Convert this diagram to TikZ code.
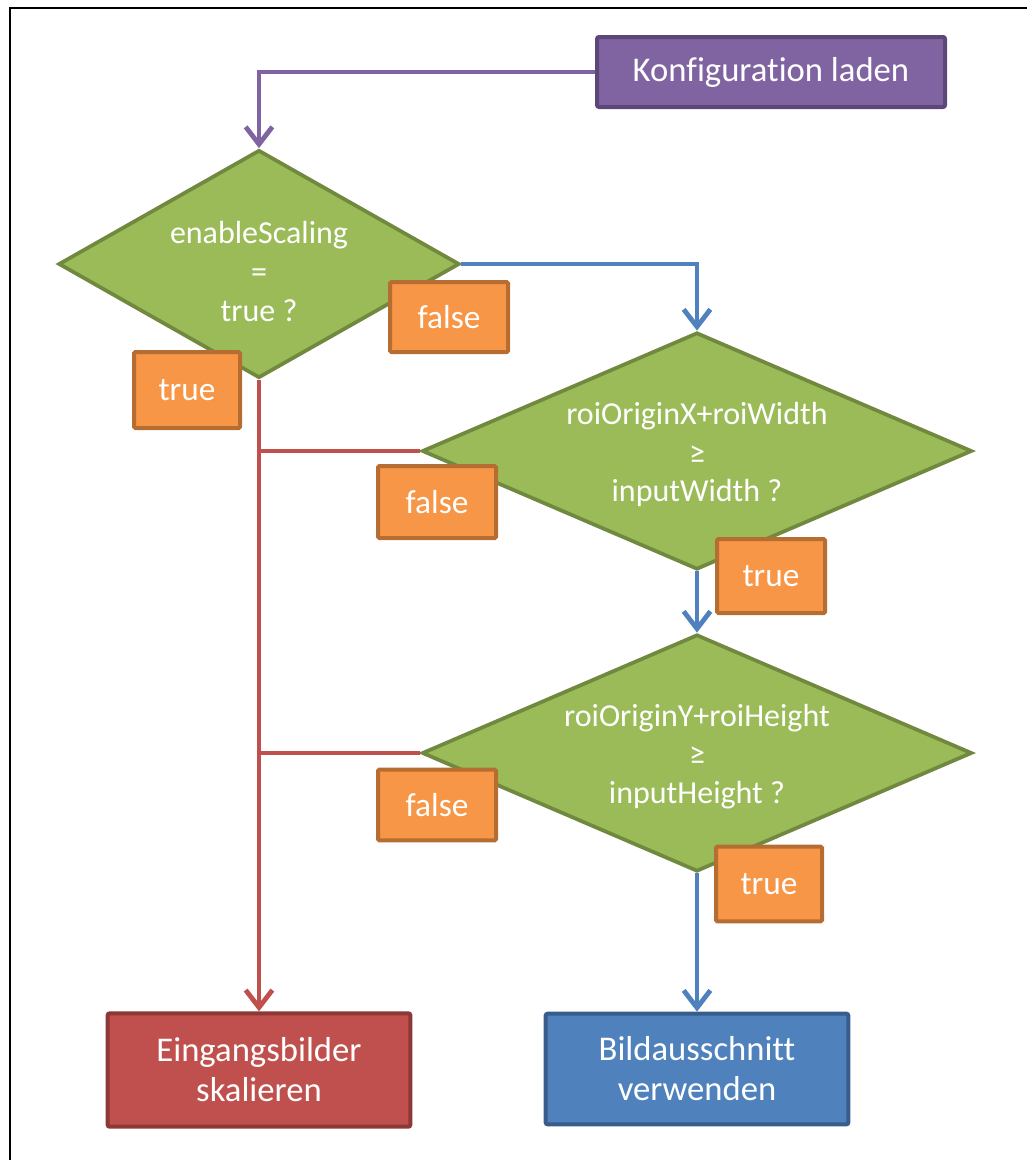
\documentclass[tikz,border=0pt]{standalone}
\usepackage{fontspec}
\setmainfont{Carlito}[RawFeature={-liga}]
\usetikzlibrary{arrows.meta, positioning, shapes.geometric}
\definecolor{cfgPurple}{HTML}{8064A2}
\definecolor{cfgPurpleDk}{HTML}{5C4776}
\definecolor{decGreen}{HTML}{9BBB59}
\definecolor{decGreenDk}{HTML}{71893F}
\definecolor{lblOrange}{HTML}{F79646}
\definecolor{lblOrangeDk}{HTML}{B66D31}
\definecolor{resRed}{HTML}{C0504D}
\definecolor{resRedDk}{HTML}{8C3836}
\definecolor{resBlue}{HTML}{4F81BD}
\definecolor{resBlueDk}{HTML}{385D8A}
\newcommand{\toppad}[1]{\rule{0pt}{#1}}

\begin{document}
\begin{tikzpicture}[
    x=0.75pt, y=-0.75pt,
    box/.style={rectangle, rounded corners=1.5pt, draw=#1Dk, fill=#1,
                line width=3pt, text=white, align=center, inner sep=0pt,
                font=\fontsize{26}{30}\selectfont},
    decision/.style={diamond, draw=decGreenDk, fill=decGreen, line width=2.8pt,
                     text=white, align=center, inner sep=0pt, shape aspect=#1,
                     font=\fontsize{24}{29}\selectfont},
    lbl/.style={rectangle, rounded corners=1pt, draw=lblOrangeDk, fill=lblOrange,
                line width=3pt, text=white, inner sep=0pt,
                font=\fontsize{25}{30}\selectfont},
    flow/.style={line width=3.6pt, draw=#1,
                 -{Straight Barb[length=13pt, width=20pt]}},
    branch/.style={line width=3.6pt, draw=#1},
  ]
    \useasboundingbox (0,0) rectangle (1027,1160);
    % frame (cut at right and bottom)
    \draw[line width=2pt] (10,1160) -- (10,8) -- (1027,8);

    \node[box=cfgPurple, minimum width=261pt, minimum height=52.5pt]
      (konf) at (771,72) {Konfiguration laden};

    \node[decision=1.76, minimum width=300.75pt, minimum height=171pt]
      (scal) at (259,264) {\toppad{28pt}enableScaling\\=\\true ?};
    \node[decision=2.32, minimum width=412.5pt, minimum height=177.75pt]
      (roix) at (697,451) {\toppad{22pt}roiOriginX+roiWidth\\≥\\inputWidth ?};
    \node[decision=2.32, minimum width=412.5pt, minimum height=177.75pt]
      (roiy) at (697,753) {\toppad{22pt}roiOriginY+roiHeight\\≥\\inputHeight ?};

    \node[box=resRed, minimum width=227pt, minimum height=85pt]
      (skal) at (259,1070) {Eingangsbilder\\skalieren};
    \node[box=resBlue, minimum width=227pt, minimum height=83pt]
      (ausw) at (697,1069) {Bildausschnitt\\verwenden};

    % connectors
    \draw[flow=cfgPurple] (konf.west) -| (scal.north);
    \draw[flow=resBlue] (scal.east) -| (roix.north);
    \draw[flow=resBlue] (roix.south) -- (roiy.north);
    \draw[flow=resBlue] (roiy.south) -- (ausw.north);
    \draw[flow=resRed] (scal.south) -- (skal.north);
    \draw[branch=resRed] (roix.west) -- (roix.west -| scal.south);
    \draw[branch=resRed] (roiy.west) -- (roiy.west -| scal.south);

    % branch labels
    \node[lbl, minimum width=88.5pt, minimum height=52.5pt] (f1) at (449,317) {false};
    \node[lbl, minimum width=79.5pt, minimum height=57pt] (t1) at (187,390) {true};
    \node[lbl, minimum width=88.5pt, minimum height=54pt] (f2) at (437,502) {false};
    \node[lbl, minimum width=81pt, minimum height=55.5pt] (t2) at (771,576) {true};
    \node[lbl, minimum width=88.5pt, minimum height=53pt] (f3) at (437,805) {false};
    \node[lbl, minimum width=79.5pt, minimum height=56pt] (t3) at (769,884) {true};
\end{tikzpicture}
\end{document}
